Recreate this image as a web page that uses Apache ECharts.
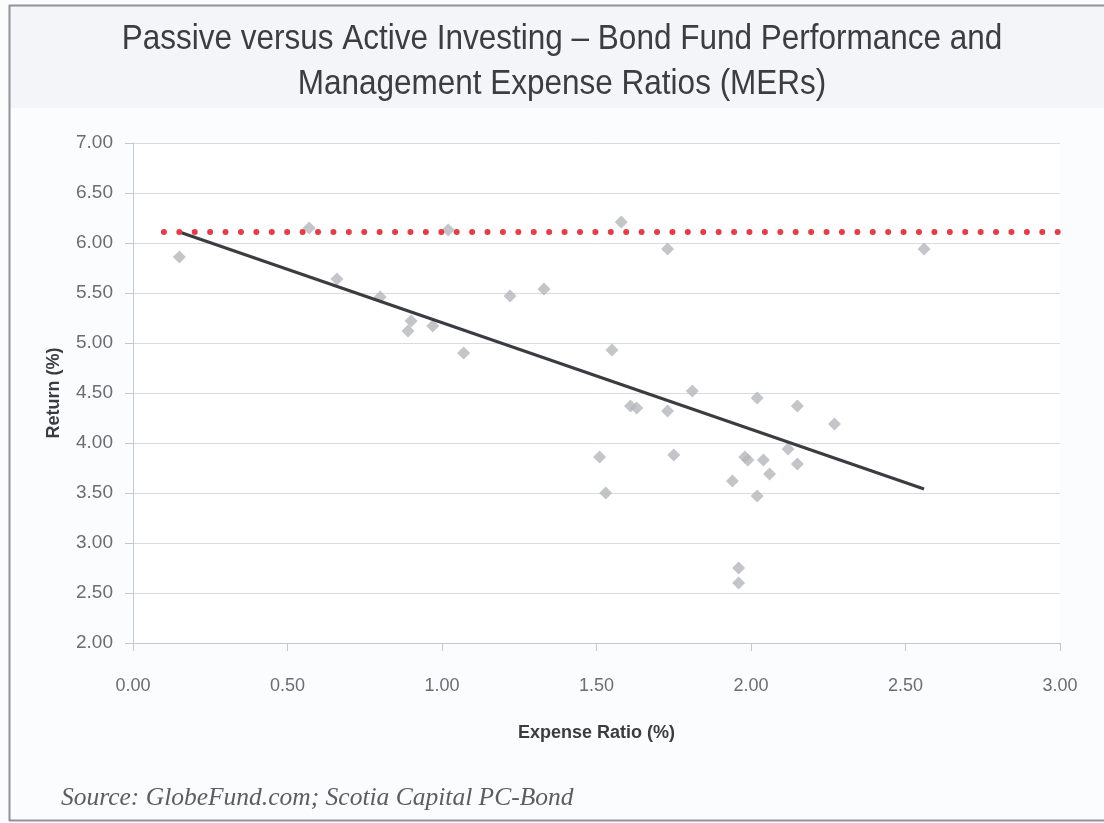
<!DOCTYPE html>
<html>
<head>
<meta charset="utf-8">
<title>Bond Fund Performance and MERs</title>
<script src="https://cdn.jsdelivr.net/npm/echarts@6/dist/echarts.min.js"></script>
<style>
  html, body { margin: 0; padding: 0; background: #fbfcfd; }
  #chart { width: 1104px; height: 823px; }
</style>
</head>
<body>
<div id="chart"></div>
<script>
// Bond funds: management expense ratio (%) and return (%)
const expenseRatio = [
  0.15, 0.57, 0.66, 0.80, 0.89, 0.90, 0.97, 1.02, 1.07, 1.22,
  1.33, 1.58, 1.73, 1.55, 1.81, 2.02, 2.15, 2.27, 1.61, 1.63,
  1.73, 1.51, 1.75, 1.53, 1.98, 1.99, 2.04, 2.06, 1.94, 2.02,
  2.12, 2.15, 1.96, 1.96, 2.56
];
const fundReturn = [
  5.86, 6.15, 5.64, 5.46, 5.12, 5.22, 5.17, 6.13, 4.90, 5.47,
  5.54, 6.21, 5.94, 4.93, 4.52, 4.45, 4.37, 4.19, 4.37, 4.35,
  4.32, 3.86, 3.88, 3.50, 3.86, 3.83, 3.83, 3.69, 3.62, 3.47,
  3.94, 3.79, 2.75, 2.60, 5.94
];

// Fitted trend line (end points)
const trendExpense = [0.15, 2.56];
const trendReturn = [6.11, 3.54];

// Passive (index) return reference level
const passiveExpense = [0.10, 3.02];
const passiveReturn = [6.11, 6.11];

// Axis ticks
const xTicks = [0, 0.5, 1, 1.5, 2, 2.5, 3];
const yTicks = [2, 2.5, 3, 3.5, 4, 4.5, 5, 5.5, 6, 6.5, 7];

const titleLines = [
  'Passive versus Active Investing \u2013 Bond Fund Performance and',
  'Management Expense Ratios (MERs)'
];
const sourceText = 'Source: GlobeFund.com; Scotia Capital PC-Bond';

const fundPoints = expenseRatio.map((x, i) => [x, fundReturn[i]]);
const trendPoints = trendExpense.map((x, i) => [x, trendReturn[i]]);
const passivePoints = passiveExpense.map((x, i) => [x, passiveReturn[i]]);

const sans = "'Liberation Sans', Arial, sans-serif";
const axisGray = '#c6c8cc';

const chart = echarts.init(document.getElementById('chart'), null, { renderer: 'canvas' });

chart.setOption({
  backgroundColor: '#fbfcfd',
  animation: false,
  graphic: [
    // header band
    { type: 'rect', left: 9, top: 6, shape: { width: 1095, height: 102 }, style: { fill: '#f3f5f8' }, z: -10 },
    // plot panel
    { type: 'rect', left: 133, top: 143, shape: { width: 927, height: 500 }, style: { fill: '#ffffff' }, z: -9 },
    // frame
    { type: 'line', shape: { x1: 9, y1: 5.5, x2: 1104, y2: 5.5 }, style: { stroke: '#8f9298', lineWidth: 2 }, z: 10 },
    { type: 'line', shape: { x1: 9.5, y1: 5, x2: 9.5, y2: 821 }, style: { stroke: '#8f9298', lineWidth: 2 }, z: 10 },
    { type: 'line', shape: { x1: 9, y1: 820.5, x2: 1104, y2: 820.5 }, style: { stroke: '#8f9298', lineWidth: 2 }, z: 10 },
    {
      // title, slightly condensed
      type: 'text', x: 562, y: 17, z: 10, scaleX: 0.9,
      style: {
        text: titleLines.join('\n'),
        font: "35px 'Liberation Sans', Arial, sans-serif",
        fill: '#3b3d41', textAlign: 'center', textVerticalAlign: 'top', lineHeight: 45
      }
    },
    {
      type: 'text', x: 61, y: 798, z: 10,
      style: {
        text: sourceText,
        font: "italic 25.5px 'Liberation Serif', 'Times New Roman', serif",
        fill: '#5b5d61', textAlign: 'left', textVerticalAlign: 'middle'
      }
    }
  ],
  grid: { left: 133, right: 44, top: 143, bottom: 180, containLabel: false },
  xAxis: {
    type: 'value',
    min: xTicks[0], max: xTicks[xTicks.length - 1], interval: 0.5,
    axisLine: { show: true, lineStyle: { color: axisGray, width: 1 } },
    axisTick: { show: true, length: 8, lineStyle: { color: axisGray } },
    splitLine: { show: false },
    axisLabel: {
      formatter: v => v.toFixed(2), fontSize: 18, color: '#6a6d72',
      fontFamily: sans, margin: 34
    },
    name: 'Expense Ratio (%)',
    nameLocation: 'middle', nameGap: 81,
    nameTextStyle: { fontSize: 18, fontWeight: 'bold', color: '#3a3c40', fontFamily: sans }
  },
  yAxis: {
    type: 'value',
    min: yTicks[0], max: yTicks[yTicks.length - 1], interval: 0.5,
    axisLine: { show: true, lineStyle: { color: axisGray, width: 1 } },
    axisTick: { show: true, length: 8, lineStyle: { color: axisGray } },
    splitLine: { show: true, lineStyle: { color: '#dadbde', width: 1 } },
    axisLabel: {
      formatter: v => v.toFixed(2), fontSize: 19, color: '#6a6d72',
      fontFamily: sans, margin: 20
    },
    name: 'Return (%)',
    nameLocation: 'middle', nameGap: 70, nameRotate: 90,
    nameTextStyle: { fontSize: 18, fontWeight: 'bold', color: '#3a3c40', fontFamily: sans }
  },
  series: [
    {
      name: 'Bond funds',
      type: 'scatter',
      data: fundPoints,
      symbol: 'diamond',
      symbolSize: 13,
      itemStyle: { color: '#b4b7bc' },
      z: 2
    },
    {
      name: 'Trend',
      type: 'line',
      data: trendPoints,
      symbol: 'none',
      lineStyle: { color: '#393c41', width: 3 },
      z: 3
    },
    {
      name: 'Passive',
      type: 'line',
      data: passivePoints,
      symbol: 'none',
      clip: false,
      lineStyle: { color: '#e63c47', width: 6, type: [0.01, 15.4], cap: 'round' },
      z: 4
    }
  ]
});
</script>
</body>
</html>
